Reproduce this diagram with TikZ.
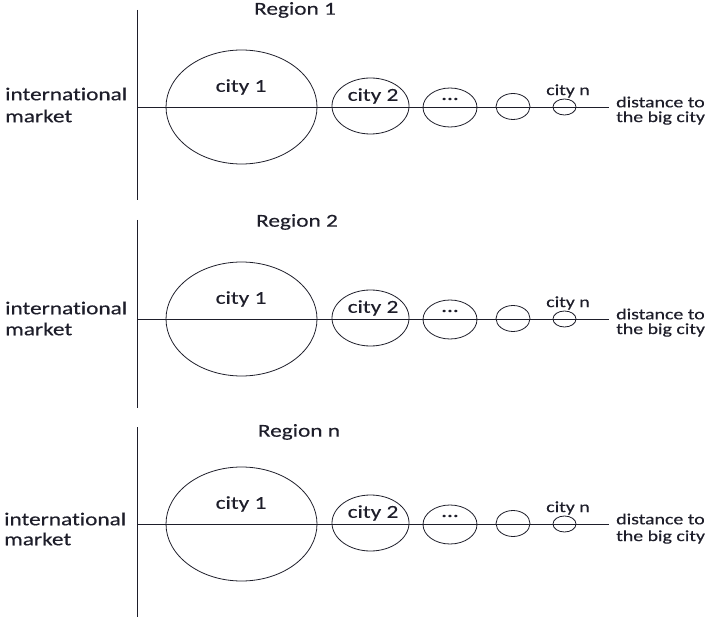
\documentclass[tikz,border=0pt]{standalone}
\usepackage{fontspec}
\setmainfont{Carlito}
\newfontfamily\widef[FakeStretch=1.28, Ligatures=NoCommon, FakeBold=0.3]{Carlito}
\usetikzlibrary{shapes.geometric}
\definecolor{ink}{HTML}{1E1E2A}
\begin{document}
\begin{tikzpicture}[x=1pt,y=-1pt,
  city/.style n args={2}{draw=ink, ellipse, line width=0.8pt, inner sep=0pt, minimum width=#1pt, minimum height=#2pt},
  axis/.style={draw=ink, line width=0.9pt},
  lbl/.style={text=ink, font=\widef\fontsize{18.2}{21}\selectfont, inner sep=0pt},
  small/.style={text=ink, font=\widef\fontsize{15.5}{18}\selectfont, inner sep=0pt}]
\useasboundingbox (0,0) rectangle (709,617);
\foreach \r/\h/\vt/\vb/\ty/\tx/\il/\ml/\title/\dy in {
  a/107/10/200/10/295/94/116/Region 1/0,
  b/319/220/408/222/297/308/329/Region 2/0,
  c/524/427/617/432/299/519/539/Region n/1}{
  % axes
  \coordinate (top-\r) at (137,\vt);
  \coordinate (bot-\r) at (137,\vb);
  \coordinate (o-\r) at (137,\h);
  \coordinate (end-\r) at (609,\h);
  \draw[axis] (top-\r) -- (bot-\r);
  \draw[axis] (o-\r) -- (end-\r);
  % cities
  \node[city={151}{114}] (c1-\r) at (241.5,\h) {};
  \node[city={77}{56}] (c2-\r) at (370.5,\h-1) {};
  \node[city={54}{39}] (c3-\r) at (450,\h+0.5) {};
  \node[city={34}{26}] (c4-\r) at (513,\h-0.5) {};
  \node[city={23}{16}] (c5-\r) at (564.5,\h) {};
  % texts
  \node[lbl] (t-\r) at (\tx,\ty) {\title};
  \node[lbl] (l1-\r) at (241,\h-20) {city 1};
  \node[lbl] (l2-\r) at (373,\h-11) {city 2};
  \node[lbl] (l3-\r) at (450,\h-8) {...};
  \node[small] (l5-\r) at (568,\h-16) {city n};
  \node[lbl, anchor=west] (im-\r) at (5-\dy,\il) {international};
  \node[lbl, anchor=west] (mk-\r) at (5-\dy,\ml) {market};
  \node[small, anchor=west] (d1-\r) at (616,\h-5) {distance to};
  \node[small, anchor=west] (d2-\r) at (616,\h+11+\dy*2) {the big city};
}
\end{tikzpicture}
\end{document}
